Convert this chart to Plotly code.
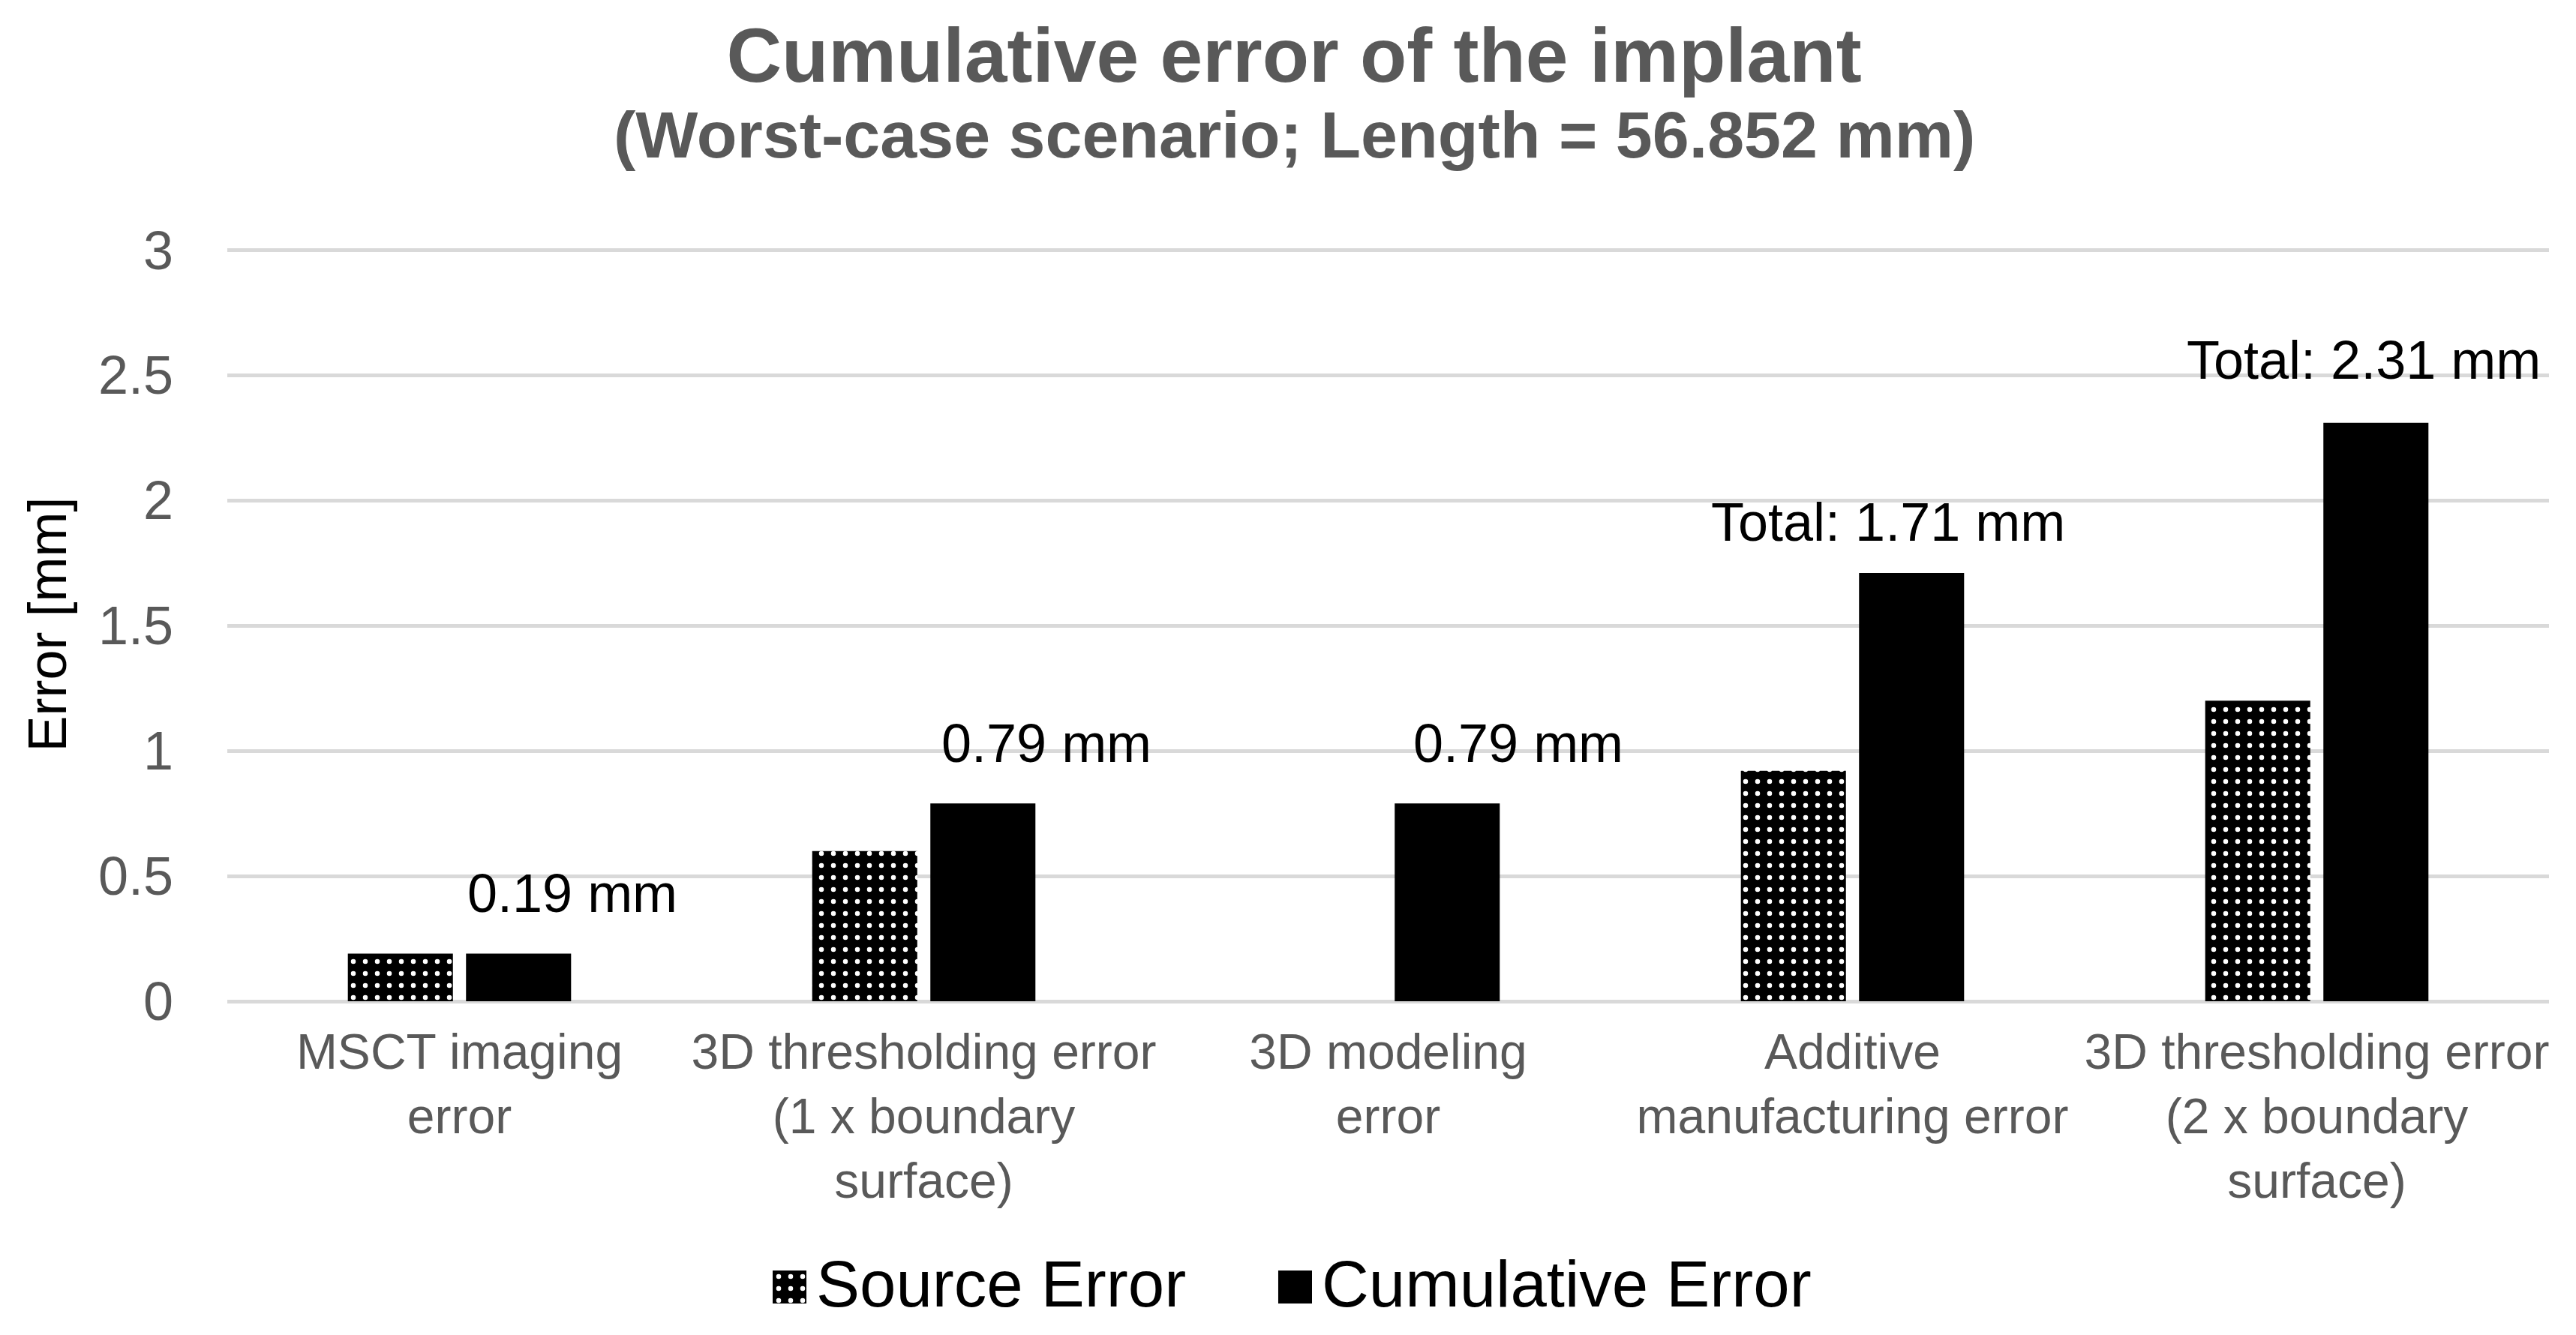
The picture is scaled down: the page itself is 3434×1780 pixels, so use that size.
import plotly.graph_objects as go

categories = [
    "MSCT imaging<br>error",
    "3D thresholding error<br>(1 x boundary<br>surface)",
    "3D modeling<br>error",
    "Additive<br>manufacturing error",
    "3D thresholding error<br>(2 x boundary<br>surface)",
]
source_error = [0.19, 0.60, 0.0, 0.92, 1.20]
cumulative_error = [0.19, 0.79, 0.79, 1.71, 2.31]
label_prefix = ["", "", "", "Total: ", "Total: "]
y_ticks = [0, 0.5, 1, 1.5, 2, 2.5, 3]
series_names = ["Source Error", "Cumulative Error"]
legend_key_fill = [1, 1]

FONT = "Liberation Sans, Arial, sans-serif"
GRAY = "#595959"
W, H = 3434, 1780

# label placement offsets (pixels) relative to category centre / bar top
label_xshift = [150, 163, 173, 47, 62]
label_yshift = [39, 38, 38, 26, 42]

DOTS = dict(shape=".", fgcolor="white", bgcolor="black",
            size=16, solidity=0.13, fillmode="replace")

fig = go.Figure()
fig.add_trace(go.Bar(
    name=series_names[0], x=categories, y=source_error,
    marker=dict(color="black", line=dict(width=0), pattern=DOTS),
    showlegend=False,
))
fig.add_trace(go.Bar(
    name=series_names[1], x=categories, y=cumulative_error,
    marker=dict(color="black", line=dict(width=0)),
    showlegend=False,
))

# legend keys (large swatches) drawn on a small helper axis
fig.add_trace(go.Bar(
    x=series_names, y=legend_key_fill, xaxis="x2", yaxis="y2",
    width=0.0668, showlegend=False, hoverinfo="skip",
    marker=dict(color="black", line=dict(width=0),
                pattern=dict(shape=[".", ""], fgcolor="white", bgcolor="black",
                             size=16, solidity=0.13, fillmode="replace")),
))

for i, (c, v) in enumerate(zip(categories, cumulative_error)):
    fig.add_annotation(
        x=c, y=v, xref="x", yref="y",
        text=f"{label_prefix[i]}{v:.2f} mm",
        showarrow=False, yanchor="bottom", xanchor="center",
        xshift=label_xshift[i], yshift=label_yshift[i],
        font=dict(family=FONT, size=72, color="black"),
    )

# subtitle
fig.add_annotation(
    text="<b>(Worst-case scenario; Length = 56.852 mm)</b>",
    xref="paper", yref="paper", x=0.5, y=1 - 120 / H,
    xanchor="center", yanchor="top", showarrow=False,
    font=dict(family=FONT, size=88, color=GRAY),
)

# y-axis title
fig.add_annotation(
    text="Error [mm]", textangle=-90,
    xref="paper", yref="paper", x=54 / W, y=1 - 824.5 / H,
    xanchor="center", yanchor="middle", showarrow=False,
    font=dict(family=FONT, size=72, color="black"),
)

# legend texts
for name, px in zip(series_names, [1078, 1752]):
    fig.add_annotation(
        text=name, xref="paper", yref="paper", x=px / W, y=1 - 1703 / H,
        xanchor="left", yanchor="middle", showarrow=False,
        font=dict(family=FONT, size=87, color="black"),
    )

fig.update_layout(
    width=W, height=H,
    margin=dict(l=0, r=0, t=0, b=0, autoexpand=False),
    paper_bgcolor="white", plot_bgcolor="white",
    title=dict(
        text="<b>Cumulative error of the implant</b>",
        x=0.5, xref="container", xanchor="center",
        y=0.9835, yref="container", yanchor="top",
        font=dict(family=FONT, size=102, color=GRAY),
    ),
    barmode="group", bargap=0.491, bargroupgap=0.111,
    showlegend=False,
    font=dict(family=FONT),
    xaxis=dict(
        domain=[295 / W, 3390 / W], anchor="y",
        showgrid=False, showline=False, zeroline=False, ticks="",
        tickangle=0, ticklabelstandoff=23,
        tickfont=dict(family=FONT, size=66, color=GRAY),
        automargin=False,
    ),
    yaxis=dict(
        domain=[453 / H, 1458 / H], anchor="x",
        range=[0, 3.01], tickvals=y_ticks,
        showgrid=True, gridcolor="#d9d9d9", gridwidth=5,
        zeroline=True, zerolinecolor="#d9d9d9", zerolinewidth=5,
        showline=False, ticks="",
        ticklabelstandoff=71,
        tickfont=dict(family=FONT, size=72, color=GRAY),
        automargin=False,
    ),
    xaxis2=dict(
        domain=[1022 / W, 1741 / W], anchor="y2",
        range=[-0.0334, 1.0334], visible=False, fixedrange=True,
    ),
    yaxis2=dict(
        domain=[(H - 1730) / H, (H - 1686) / H], anchor="x2",
        range=[0, 1], visible=False, fixedrange=True,
    ),
)

fig.write_html("out.html")
